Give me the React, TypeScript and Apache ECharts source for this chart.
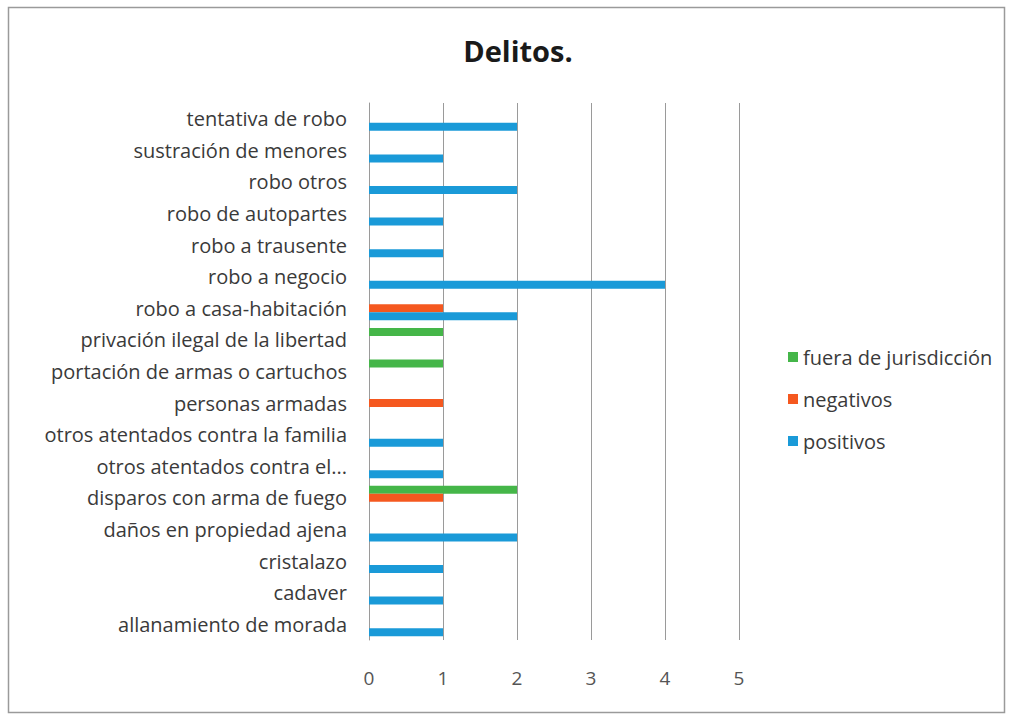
import React, { useEffect, useRef } from "react";
import * as echarts from "echarts";

const categories = [
  "allanamiento de morada",
  "cadaver",
  "cristalazo",
  "daños en propiedad ajena",
  "disparos con arma de fuego",
  "otros atentados contra el...",
  "otros atentados contra la familia",
  "personas armadas",
  "portación de armas o cartuchos",
  "privación ilegal de la libertad",
  "robo a casa-habitación",
  "robo a negocio",
  "robo a trausente",
  "robo de autopartes",
  "robo otros",
  "sustración de menores",
  "tentativa de robo",
];

const positivos = [1, 1, 1, 2, 0, 1, 1, 0, 0, 0, 2, 4, 1, 1, 2, 1, 2];
const negativos = [0, 0, 0, 0, 1, 0, 0, 1, 0, 0, 1, 0, 0, 0, 0, 0, 0];
const fuera = [0, 0, 0, 0, 2, 0, 0, 0, 1, 1, 0, 0, 0, 0, 0, 0, 0];

const xTicks = [0, 5, 1];

const FONT = "Open Sans";

export default function App() {
  const ref = useRef<HTMLDivElement>(null);
  useEffect(() => {
    document.body.style.margin = "0";
    const chart = echarts.init(ref.current!, null, { renderer: "svg" });
    const nz = (arr: number[]) => arr.map((v) => (v === 0 ? null : v));
    chart.setOption({
      animation: false,
      backgroundColor: "#ffffff",
      textStyle: { fontFamily: FONT },
      title: {
        text: "Delitos.",
        left: 513,
        top: 31,
        textAlign: "center",
        textStyle: { fontFamily: FONT, fontSize: 29, fontWeight: "bold", color: "#1a1a1a" },
      },
      graphic: [
        {
          type: "rect",
          shape: { x: 8.5, y: 7.5, width: 996, height: 705 },
          style: { fill: "none", stroke: "#9a9a9a", lineWidth: 1.5 },
          silent: true,
        },
      ],
      legend: {
        orient: "vertical",
        left: 783,
        top: 342,
        itemWidth: 10,
        itemHeight: 10,
        itemGap: 22,
        icon: "rect",
        data: ["fuera de jurisdicción", "negativos", "positivos"],
        textStyle: { fontFamily: FONT, fontSize: 20, color: "#3a3a3a", padding: [0, 0, 0, 0] },
      },
      grid: { left: 369, right: 273, top: 103, bottom: 78, containLabel: false },
      xAxis: {
        type: "value",
        min: xTicks[0],
        max: xTicks[1],
        interval: xTicks[2],
        axisLine: { show: false },
        axisTick: { show: false },
        splitLine: { lineStyle: { color: "#9a9a9a", width: 1 } },
        axisLabel: { margin: 28, fontFamily: FONT, fontSize: 19, color: "#555555" },
      },
      yAxis: {
        type: "category",
        data: categories,
        axisLine: { show: true, lineStyle: { color: "#9a9a9a", width: 1 } },
        axisTick: { show: false },
        axisLabel: { margin: 22, fontFamily: FONT, fontSize: 20, color: "#3a3a3a" },
      },
      series: [
        {
          name: "fuera de jurisdicción",
          type: "bar",
          data: nz(fuera),
          barWidth: 8,
          barGap: "0%",
          itemStyle: { color: "#45b649" },
        },
        {
          name: "negativos",
          type: "bar",
          data: nz(negativos),
          barWidth: 8,
          barGap: "0%",
          itemStyle: { color: "#f5581f" },
        },
        {
          name: "positivos",
          type: "bar",
          data: nz(positivos),
          barWidth: 8,
          barGap: "0%",
          itemStyle: { color: "#1a9ad8" },
        },
      ],
    });
    return () => chart.dispose();
  }, []);
  return <div ref={ref} style={{ width: 1012, height: 718 }} />;
}
